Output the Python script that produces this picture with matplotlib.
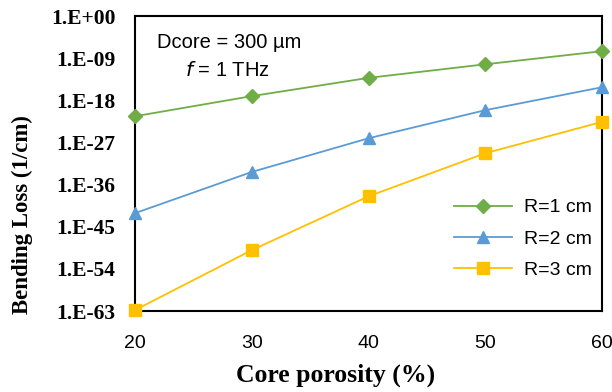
import numpy as np
import matplotlib.pyplot as plt
from matplotlib.ticker import FixedLocator, FuncFormatter, NullLocator

# core porosity (%)
porosity = [20, 30, 40, 50, 60]

# log10 of bending loss (1/cm)
r1_exp = [-21.4, -17.1, -13.2, -10.3, -7.5]
r2_exp = [-42.1, -33.3, -26.1, -20.1, -15.2]
r3_exp = [-62.8, -50.0, -38.5, -29.3, -22.6]

labels = ['R=1 cm', 'R=2 cm', 'R=3 cm']

r1 = 10.0 ** np.array(r1_exp)
r2 = 10.0 ** np.array(r2_exp)
r3 = 10.0 ** np.array(r3_exp)

fig = plt.figure(figsize=(6.12, 3.92), dpi=100)
ax = fig.add_axes([0.2206, 0.2066, 0.7631, 0.7524])

ax.plot(porosity, r1, color='#70AD47', marker='D', markersize=7, lw=1.3, label=labels[0], clip_on=False, zorder=3)
ax.plot(porosity, r2, color='#5B9BD5', marker='^', markersize=9, lw=1.3, label=labels[1], clip_on=False, zorder=3)
ax.plot(porosity, r3, color='#FFC000', marker='s', markersize=8, lw=1.3, label=labels[2], clip_on=False, zorder=3)

ax.set_yscale('log')
ax.set_ylim(1e-63, 1e0)
ax.set_xlim(20, 60)
ax.yaxis.set_major_locator(FixedLocator(10.0 ** np.arange(-63, 1, 9)))
ax.yaxis.set_minor_locator(NullLocator())
ax.yaxis.set_major_formatter(FuncFormatter(lambda v, p: '1.E%+03d' % int(round(np.log10(v)))))
ax.set_xticks(porosity)
ax.tick_params(axis='y', length=0, pad=14, labelsize=15.5)
ax.tick_params(axis='x', length=0, pad=17, labelsize=14)
for t in ax.get_yticklabels():
    t.set_family('Liberation Serif')
    t.set_fontweight('bold')
for t in ax.get_xticklabels():
    t.set_family('Liberation Sans')

for s in ax.spines.values():
    s.set_linewidth(1.5)

fig.text(336 / 612, 1 - 375 / 392, 'Core porosity (%)', family='Liberation Serif', fontweight='bold',
         fontsize=18.5, ha='center', va='center')
fig.text(22 / 612, 1 - 215 / 392, 'Bending Loss (1/cm)', family='Liberation Serif', fontweight='bold',
         fontsize=16.5, ha='center', va='center', rotation=90)

ax.text(229 / 612, 1 - 43 / 392, 'Dcore = 300 µm', transform=fig.transFigure, family='Liberation Sans',
        fontsize=14.5, ha='center', va='center')
ax.text(227 / 612, 1 - 70 / 392, '$f$ = 1 THz', transform=fig.transFigure, family='Liberation Sans',
        fontsize=14.5, ha='center', va='center')

ax.legend(loc='lower right', frameon=False, prop={'family': 'Liberation Sans', 'size': 14},
          handlelength=3.0, handletextpad=0.6, bbox_to_anchor=(1.015, 0.05), labelspacing=0.7)

fig.savefig('out.png', dpi=100)
